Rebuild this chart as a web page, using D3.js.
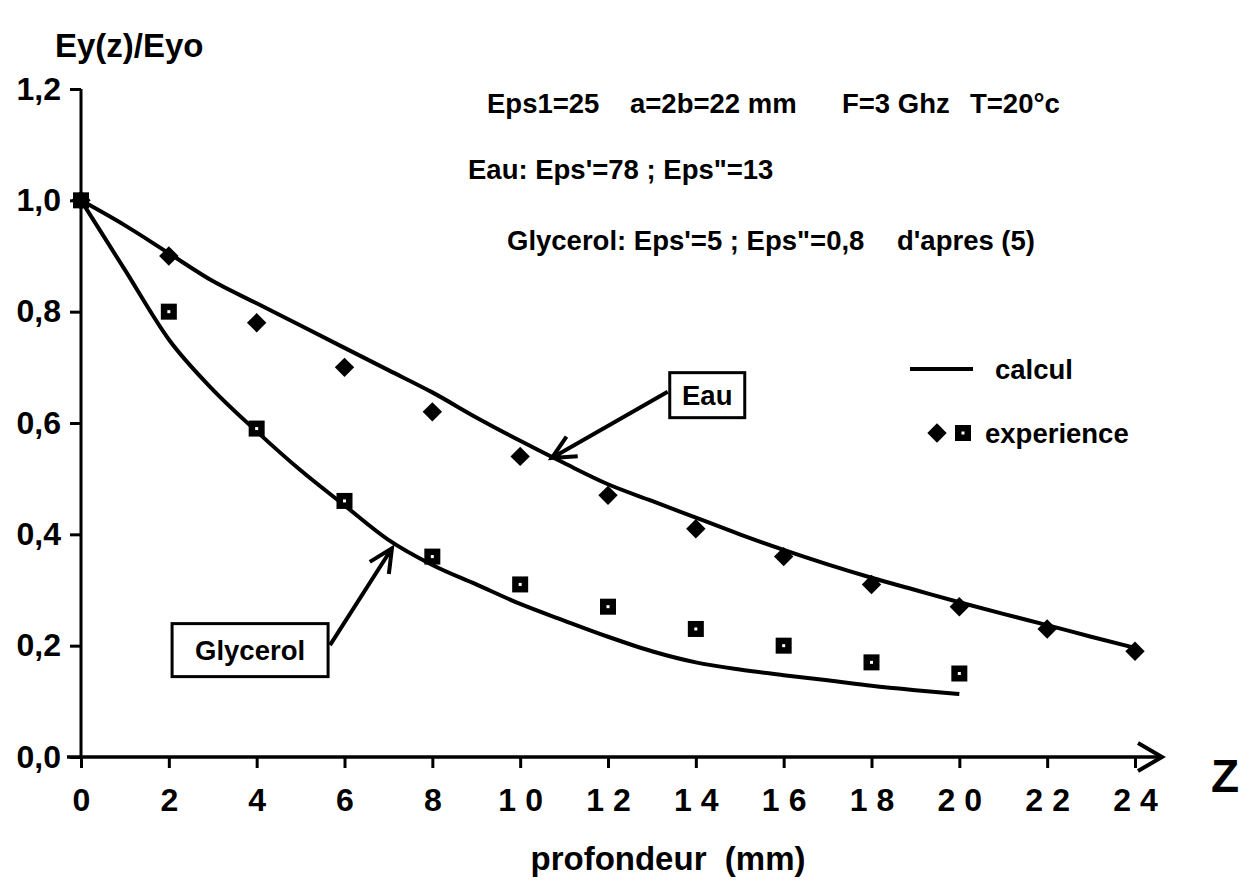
<!DOCTYPE html>
<html>
<head>
<meta charset="utf-8">
<script src="https://cdn.jsdelivr.net/npm/d3@7"></script>
<style>
  html, body { margin: 0; padding: 0; background: #fff; }
  svg { display: block; font-family: "Liberation Sans", Arial, Helvetica, sans-serif; font-weight: bold; }
</style>
</head>
<body>
<svg id="chart" width="1252" height="881"></svg>
<script>
// depth (mm) of the measured points
const expDepth = [0, 2, 4, 6, 8, 10, 12, 14, 16, 18, 20, 22, 24];
const eauExp = [1.0, 0.90, 0.78, 0.70, 0.62, 0.54, 0.47, 0.41, 0.36, 0.31, 0.27, 0.23, 0.19];
const glyExpDepth = [0, 2, 4, 6, 8, 10, 12, 14, 16, 18, 20];
const glyExp = [1.0, 0.80, 0.59, 0.46, 0.36, 0.31, 0.27, 0.23, 0.20, 0.17, 0.15];

// computed curves, read every 1 mm
const eauCalcDepth = d3.range(0, 25, 1);
const eauCalc = [1.0, 0.955, 0.905, 0.855, 0.815, 0.775, 0.735, 0.695, 0.655, 0.61, 0.568,
  0.528, 0.49, 0.46, 0.43, 0.40, 0.372, 0.346, 0.322, 0.30, 0.278, 0.257, 0.237, 0.216, 0.196];
const glyCalcDepth = d3.range(0, 21, 1);
const glyCalc = [1.0, 0.875, 0.75, 0.66, 0.585, 0.515, 0.452, 0.39, 0.345, 0.31, 0.275,
  0.245, 0.216, 0.19, 0.17, 0.157, 0.147, 0.138, 0.128, 0.12, 0.113];

const xTicks = [0, 2, 4, 6, 8, 10, 12, 14, 16, 18, 20, 22, 24];
const yTicks = [0, 0.2, 0.4, 0.6, 0.8, 1.0, 1.2];

const svg = d3.select("#chart");
svg.append("rect").attr("width", 1252).attr("height", 881).attr("fill", "#fff");

const x = d3.scaleLinear().domain([0, 24]).range([81, 1135]);
const y = d3.scaleLinear().domain([0, 1.2]).range([757, 89]);

// y axis
const yAxis = svg.append("g")
  .attr("transform", `translate(${x(0)},0)`)
  .call(d3.axisLeft(y).tickValues(yTicks).tickSize(11).tickPadding(9)
    .tickFormat((d) => d3.format(".1f")(d).replace(".", ",")));
yAxis.select(".domain").remove();
yAxis.selectAll(".tick line").attr("stroke", "#000").attr("stroke-width", 3);
yAxis.selectAll(".tick text").attr("font-size", 32).attr("fill", "#000")
  .attr("font-family", "Liberation Sans, Arial, sans-serif").attr("font-weight", "bold");
svg.append("line")
  .attr("x1", x(0)).attr("x2", x(0)).attr("y1", y(0)).attr("y2", y(1.2))
  .attr("stroke", "#000").attr("stroke-width", 3);

// x axis
const xAxis = svg.append("g")
  .attr("transform", `translate(0,${y(0)})`)
  .call(d3.axisBottom(x).tickValues(xTicks).tickSize(11).tickPadding(20)
    .tickFormat((d) => String(d)));
xAxis.select(".domain").remove();
xAxis.selectAll(".tick line").attr("stroke", "#000").attr("stroke-width", 3);
xAxis.selectAll(".tick text").attr("font-size", 32).attr("fill", "#000")
  .attr("font-family", "Liberation Sans, Arial, sans-serif").attr("font-weight", "bold")
  .style("letter-spacing", "9px").attr("dx", 4.5);
const xEnd = x(24) + 27;
svg.append("line")
  .attr("x1", x(0) - 14).attr("x2", xEnd).attr("y1", y(0)).attr("y2", y(0))
  .attr("stroke", "#000").attr("stroke-width", 3.5);
svg.append("path")
  .attr("d", `M${xEnd - 24},${y(0) - 14}L${xEnd},${y(0)}L${xEnd - 24},${y(0) + 14}`)
  .attr("fill", "none").attr("stroke", "#000").attr("stroke-width", 4);

svg.append("text").attr("x", 1211).attr("y", 792).attr("font-size", 46).text("Z");
svg.append("text").attr("x", 668).attr("y", 870).attr("text-anchor", "middle")
  .attr("font-size", 33).style("white-space", "pre").text("profondeur  (mm)");
svg.append("text").attr("x", 55).attr("y", 57).attr("font-size", 33).text("Ey(z)/Eyo");

// calculated curves
const line = d3.line().x((d) => x(d[0])).y((d) => y(d[1])).curve(d3.curveMonotoneX);
svg.append("path")
  .datum(d3.zip(eauCalcDepth, eauCalc))
  .attr("d", line).attr("fill", "none").attr("stroke", "#000").attr("stroke-width", 4);
svg.append("path")
  .datum(d3.zip(glyCalcDepth, glyCalc))
  .attr("d", line).attr("fill", "none").attr("stroke", "#000").attr("stroke-width", 4);

// experimental points
const diamond = d3.symbol().type(d3.symbolDiamond2).size(240);
const drawSquare = (g) => {
  g.append("rect").attr("x", -8).attr("y", -8).attr("width", 16).attr("height", 16).attr("fill", "#000");
  g.append("rect").attr("x", -1.5).attr("y", -1.5).attr("width", 3).attr("height", 3).attr("fill", "#fff");
};
svg.append("g").selectAll("g")
  .data(d3.zip(glyExpDepth, glyExp))
  .join("g")
  .attr("transform", (d) => `translate(${x(d[0])},${y(d[1])})`)
  .each(function (d) { drawSquare(d3.select(this)); });
svg.append("g").selectAll("path")
  .data(d3.zip(expDepth, eauExp))
  .join("path")
  .attr("transform", (d) => `translate(${x(d[0])},${y(d[1])})`)
  .attr("d", diamond).attr("fill", "#000");

// header notes
const note = (tx, ty, t) => svg.append("text").attr("x", tx).attr("y", ty).attr("font-size", 27.5).text(t);
note(487, 113, "Eps1=25");
note(630, 113, "a=2b=22 mm");
note(842, 113, "F=3 Ghz");
note(970, 113, "T=20°c");
note(468, 179, "Eau: Eps'=78 ; Eps\"=13");
note(507, 250, "Glycerol: Eps'=5 ; Eps\"=0,8");
note(897, 250, "d'apres (5)");

// legend
svg.append("line").attr("x1", 910).attr("x2", 973).attr("y1", 369).attr("y2", 369)
  .attr("stroke", "#000").attr("stroke-width", 4);
svg.append("text").attr("x", 995).attr("y", 379).attr("font-size", 27.5).text("calcul");
svg.append("path").attr("transform", "translate(937,433)").attr("d", diamond).attr("fill", "#000");
drawSquare(svg.append("g").attr("transform", "translate(963,433)"));
svg.append("text").attr("x", 985).attr("y", 443).attr("font-size", 27.5).text("experience");

// callouts
const callout = (label, bx, by, bw, bh, from, to) => {
  const cx = x(bx), cy = y(by);
  svg.append("rect").attr("x", cx - bw / 2).attr("y", cy - bh / 2).attr("width", bw).attr("height", bh)
    .attr("fill", "#fff").attr("stroke", "#000").attr("stroke-width", 3);
  svg.append("text").attr("x", cx).attr("y", cy + 10).attr("text-anchor", "middle")
    .attr("font-size", 27.5).text(label);
  const x1 = x(from[0]), y1 = y(from[1]), x2 = x(to[0]), y2 = y(to[1]);
  const a = Math.atan2(y2 - y1, x2 - x1);
  const L = 26, w = 0.45;
  svg.append("path")
    .attr("d", `M${x1},${y1}L${x2},${y2}` +
      `M${x2 - L * Math.cos(a - w)},${y2 - L * Math.sin(a - w)}L${x2},${y2}` +
      `L${x2 - L * Math.cos(a + w)},${y2 - L * Math.sin(a + w)}`)
    .attr("fill", "none").attr("stroke", "#000").attr("stroke-width", 4);
};
callout("Eau", 14.26, 0.65, 75, 45, [13.36, 0.656], [10.72, 0.537]);
callout("Glycerol", 3.85, 0.192, 156, 53, [5.67, 0.201], [7.08, 0.375]);
</script>
</body>
</html>
